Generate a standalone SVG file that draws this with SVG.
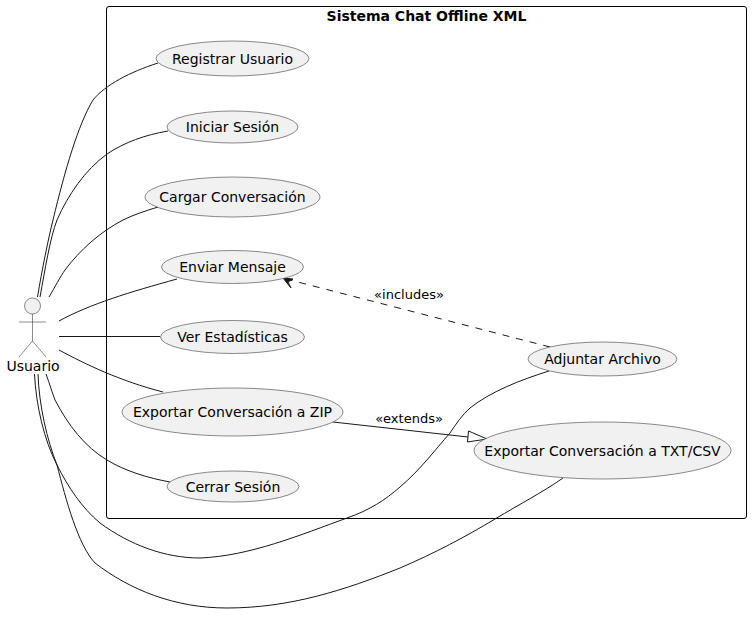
<svg xmlns="http://www.w3.org/2000/svg" width="752" height="617" viewBox="0 0 752 617">
<style>
text{font-family:"DejaVu Sans",sans-serif;font-size:14px;fill:#000}
.e{fill:#f1f1f1;stroke:#181818;stroke-width:.5}
.c{fill:none;stroke:#181818;stroke-width:1}
.a{fill:none;stroke:#181818;stroke-width:.5}
</style>
<rect width="752" height="617" fill="#fff"/>
<g id="system"><rect x="106.5" y="6.5" width="640" height="512" rx="2.5" fill="none" stroke="#000" stroke-width="1"/>
<text x="426.5" y="21" text-anchor="middle" style="font-weight:bold">Sistema Chat Offline XML</text></g>
<g id="connectors">
<path class="c" d="M37.5 297C42 270 48 240 53 220C65 170 78 125 93 100C105 85 130 72 158 63"/>
<path class="c" d="M40 297C45 270 50 238 57 220C68 195 85 170 107 154C125 142 145 135 168 131"/>
<path class="c" d="M49 297C55 287 60 277 65 270C80 250 100 232 123 220C133 215 145 211 158 207"/>
<path class="c" d="M59 321C90 304 130 292 177 279"/>
<path class="c" d="M59 336.5H160"/>
<path class="c" d="M59 350C85 364 120 381 163 392"/>
<path class="c" d="M46 374C50 385 52 392 55 400C68 425 85 447 107 460C125 471 148 478 170 482"/>
<path class="c" d="M34.500 374C36 405 44 440 57 465C68 487 82 508 100 523C130 545 165 558 200 558C250 556 300 535 347 518C370 510 385 500 400 487C420 470 435 450 450 433C456 424 462 415 470 408C490 392 520 380 549 371"/>
<path class="c" d="M38 374C39 405 47 440 57 465C66 500 78 545 95 563C130 590 175 608 227 608C290 608 345 590 400 568C435 553 465 537 495 519C520 504 543 492 563 478"/>
<path class="c" d="M333 422L468 437"/>
<polygon points="468.500,431 467.500,442 487,439" fill="#fff" stroke="#181818" stroke-width="1"/>
<path class="c" stroke-dasharray="7,7" d="M550 347L288 279.500"/>
<polygon points="283,278 291,288 288,282 293,279" fill="#181818" stroke="#181818"/>
</g>
<g id="actor-usuario"><circle cx="32.500" cy="306" r="8" class="e"/>
<path class="a" d="M32.500 314V341M19 322H46M32.500 341L19 357M32.500 341L46 357"/>
<text x="33" y="371" text-anchor="middle">Usuario</text></g>
<g id="uc-registrar"><ellipse cx="232.500" cy="58.500" rx="76.500" ry="17.500" class="e"/><text x="232.500" y="64" text-anchor="middle">Registrar Usuario</text></g>
<g id="uc-iniciar"><ellipse cx="232.500" cy="127" rx="65.500" ry="16" class="e"/><text x="232.500" y="132" text-anchor="middle">Iniciar Sesión</text></g>
<g id="uc-cargar"><ellipse cx="232.500" cy="197" rx="87.500" ry="20" class="e"/><text x="232.500" y="202" text-anchor="middle">Cargar Conversación</text></g>
<g id="uc-enviar"><ellipse cx="232.500" cy="267" rx="71" ry="16.500" class="e"/><text x="232.500" y="272" text-anchor="middle">Enviar Mensaje</text></g>
<g id="uc-ver"><ellipse cx="232.500" cy="337" rx="72" ry="16.500" class="e"/><text x="232.500" y="342" text-anchor="middle">Ver Estadísticas</text></g>
<g id="uc-zip"><ellipse cx="232.500" cy="412" rx="110.500" ry="24" class="e"/><text x="232.500" y="417" text-anchor="middle">Exportar Conversación a ZIP</text></g>
<g id="uc-cerrar"><ellipse cx="233" cy="486.500" rx="66" ry="15.500" class="e"/><text x="233" y="492" text-anchor="middle">Cerrar Sesión</text></g>
<g id="uc-adjuntar"><ellipse cx="602.500" cy="359" rx="74.500" ry="17" class="e"/><text x="602.500" y="364" text-anchor="middle">Adjuntar Archivo</text></g>
<g id="uc-txt"><ellipse cx="602.500" cy="450.500" rx="128.500" ry="28.500" class="e"/><text x="602.500" y="456" text-anchor="middle">Exportar Conversación a TXT/CSV</text></g>
<text x="409" y="299" text-anchor="middle" style="font-size:13px">«includes»</text>
<text x="409" y="423" text-anchor="middle" style="font-size:13px">«extends»</text>
</svg>
